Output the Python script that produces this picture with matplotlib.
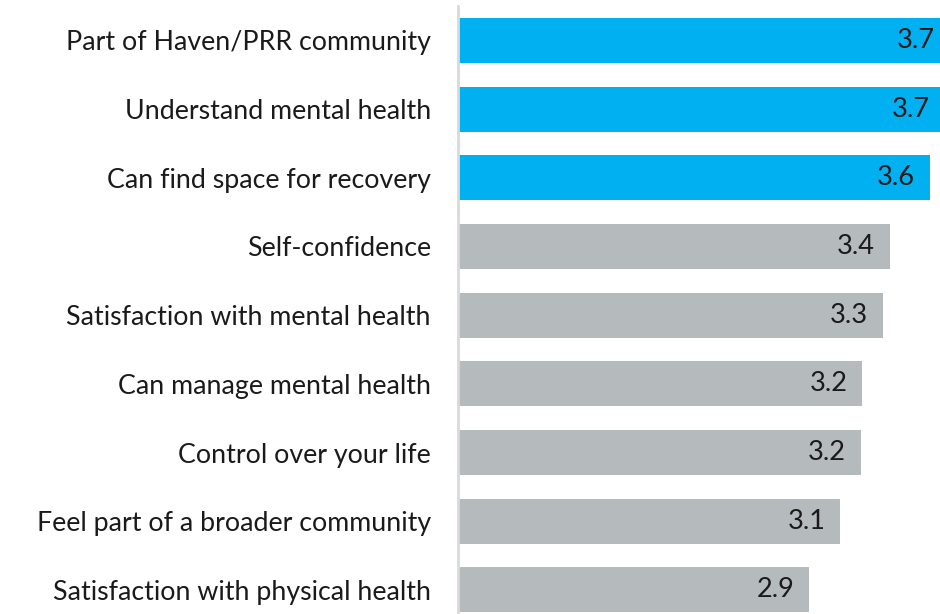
import matplotlib.pyplot as plt

# survey items, top to bottom
items = [
    "Part of Haven/PRR community",
    "Understand mental health",
    "Can find space for recovery",
    "Self-confidence",
    "Satisfaction with mental health",
    "Can manage mental health",
    "Control over your life",
    "Feel part of a broader community",
    "Satisfaction with physical health",
]
# mean scores (1-5 scale)
scores = [3.69, 3.66, 3.58, 3.36, 3.32, 3.21, 3.20, 3.09, 2.92]
highlighted = [True, True, True, False, False, False, False, False, False]

BLUE = "#00B0F0"
GREY = "#B5BABD"

plt.rcParams['font.family'] = ['Lato', 'DejaVu Sans']

fig = plt.figure(figsize=(9.4, 6.14), dpi=100)
# axes run past the right edge of the figure, so the top bars get cut off
ax = fig.add_axes([458 / 940, 0.0, 549 / 940, 608 / 614])

colors = [BLUE if h else GREY for h in highlighted]
ypos = range(len(items))
bars = ax.barh(ypos, [s - 1 for s in scores], left=1, height=0.655, color=colors)

ax.set_xlim(1, 4)
ax.set_ylim(8.35, -0.5)
ax.set_yticks(list(ypos))
ax.set_yticklabels(items, fontsize=19.3, color="#1a1a1a")
ax.tick_params(axis='y', length=0, pad=19.5)
ax.set_xticks([])

for side in ['top', 'right', 'bottom']:
    ax.spines[side].set_visible(False)
ax.spines['left'].set_color("#D9D9D9")
ax.spines['left'].set_linewidth(2)

for bar, s in zip(bars, scores):
    ax.annotate(f"{s:.1f}", xy=(bar.get_x() + bar.get_width(), bar.get_y() + bar.get_height() / 2),
                xytext=(-15, 0), textcoords='offset pixels', ha='right', va='center',
                fontsize=19.5, color="#1a1a1a")

fig.savefig("out.png", dpi=100)
